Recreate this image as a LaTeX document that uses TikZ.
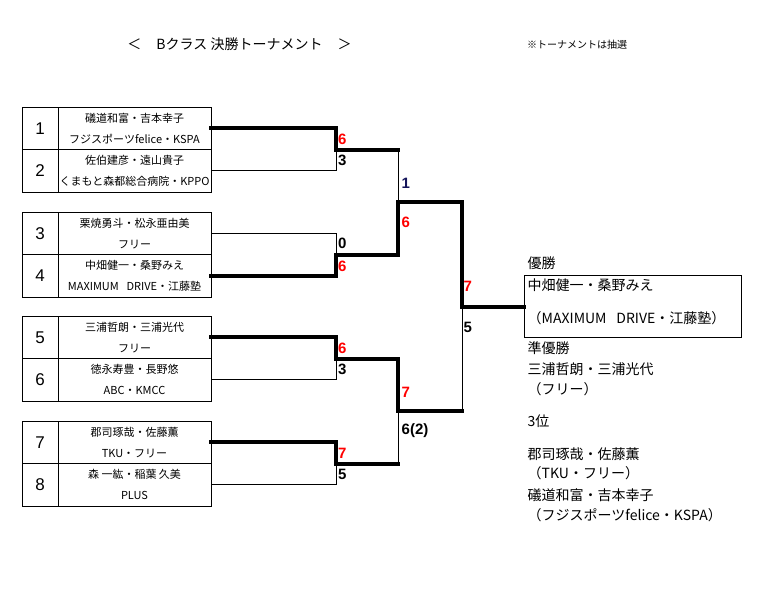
\documentclass[tikz,border=0pt]{standalone}
\usepackage{fontspec}
\setmainfont{Liberation Sans}
\newfontfamily\jp{Noto Sans CJK JP}
\definecolor{navy}{RGB}{20,20,90}
\begin{document}
\begin{tikzpicture}[x=1pt,y=-1pt,
  numcell/.style={draw, line width=0.8pt, minimum width=36pt, minimum height=42.5pt, inner sep=0pt, font=\fontsize{17}{17}\selectfont},
  namecell/.style={draw, line width=0.8pt, minimum width=153pt, minimum height=42.5pt, inner sep=0pt, align=center, font=\jp\fontsize{11}{21}\selectfont},
  win/.style={line width=4pt, line cap=rect},
  lose/.style={line width=0.9pt},
  sc/.style={anchor=west, inner sep=0pt, font=\bfseries\fontsize{15}{15}\selectfont},
  scw/.style={sc, text=red},
  rt/.style={anchor=west, inner sep=0pt, font=\jp\fontsize{14}{14}\selectfont}
]
\useasboundingbox (0,0) rectangle (782,592);
% title and note
\node[font=\jp\fontsize{14}{14}\selectfont, inner sep=0pt] (title) at (239.5,44) {＜\hspace{15pt}Bクラス 決勝トーナメント\hspace{15pt}＞};
\node[font=\jp\fontsize{10}{10}\selectfont, anchor=west, inner sep=0pt] (note) at (527,45) {※トーナメントは抽選};
% entries
\node[numcell] (n1) at (40,128.25) {1};
\node[namecell] (e1) at (134.5,128.25) {礒道和富・吉本幸子\\フジスポーツfelice・KSPA};
\node[numcell] (n2) at (40,170.75) {2};
\node[namecell] (e2) at (134.5,170.75) {佐伯建彦・遠山貴子\\くまもと森都総合病院・KPPO};
\node[numcell] (n3) at (40,233.25) {3};
\node[namecell] (e3) at (134.5,233.25) {栗焼勇斗・松永亜由美\\フリー};
\node[numcell] (n4) at (40,275.75) {4};
\node[namecell] (e4) at (134.5,275.75) {中畑健一・桑野みえ\\MAXIMUM\hspace{0.7em}DRIVE・江藤塾};
\node[numcell] (n5) at (40,337.25) {5};
\node[namecell] (e5) at (134.5,337.25) {三浦哲朗・三浦光代\\フリー};
\node[numcell] (n6) at (40,379.75) {6};
\node[namecell] (e6) at (134.5,379.75) {徳永寿豊・長野悠\\ABC・KMCC};
\node[numcell] (n7) at (40,442.25) {7};
\node[namecell] (e7) at (134.5,442.25) {郡司琢哉・佐藤薫\\TKU・フリー};
\node[numcell] (n8) at (40,484.75) {8};
\node[namecell] (e8) at (134.5,484.75) {森 一紘・稲葉 久美\\PLUS};
% champion box
\node[draw, line width=0.8pt, minimum width=217pt, minimum height=62pt, inner sep=0pt] (champ) at (632.5,306.5) {};
% junctions
\coordinate (j1) at (336,149.5); \coordinate (k1) at (398,149.5);
\coordinate (j2) at (336,254.5); \coordinate (k2) at (398,254.5);
\coordinate (j3) at (336,358.5); \coordinate (k3) at (398,358.5);
\coordinate (j4) at (336,463.5); \coordinate (k4) at (398,463.5);
\coordinate (s1) at (398,202); \coordinate (t1) at (462,202);
\coordinate (s2) at (398,411); \coordinate (t2) at (462,411);
\coordinate (f) at (462,306.5);
% losing lines
\draw[lose] (e2.east) -| (j1);
\draw[lose] (e3.east) -| (j2);
\draw[lose] (e6.east) -| (j3);
\draw[lose] (e8.east) -| (j4);
\draw[lose] (k1) -- (s1);
\draw[lose] (k4) -- (s2);
\draw[lose] (t2) -- (f);
% winning lines
\draw[win] (e1.east) -| (j1) -- (k1);
\draw[win] (e4.east) -| (j2) -- (k2) -- (s1) -- (t1) -- (f) -- (champ.west);
\draw[win] (e5.east) -| (j3) -- (k3) -- (s2) -- (t2);
\draw[win] (e7.east) -| (j4) -- (k4);
% scores
\node[scw] (a1) at (338,139) {6};
\node[sc] (a2) at (338,160) {3};
\node[sc] (a3) at (338,243) {0};
\node[scw] (a4) at (338,266) {6};
\node[scw] (a5) at (338,348) {6};
\node[sc] (a6) at (338,369) {3};
\node[scw] (a7) at (338,453) {7};
\node[sc] (a8) at (338,474) {5};
\node[sc, text=navy] (b1) at (401.5,183) {1};
\node[scw] (b2) at (401.5,222) {6};
\node[scw] (b3) at (401.5,392) {7};
\node[sc] (b4) at (401.5,431) {6(2)};
\node[scw] (c1) at (463.5,286) {7};
\node[sc] (c2) at (463.5,327) {5};
% results
\node[rt] (r1) at (527.5,263) {優勝};
\node[rt] (r2) at (527.5,285) {中畑健一・桑野みえ};
\node[rt] (r3) at (527.5,318) {（MAXIMUM\hspace{0.7em}DRIVE・江藤塾）};
\node[rt] (r4) at (527.5,348) {準優勝};
\node[rt] (r5) at (527.5,369) {三浦哲朗・三浦光代};
\node[rt] (r6) at (527.5,389) {（フリー）};
\node[rt] (r7) at (527.5,421.5) {3位};
\node[rt] (r8) at (527.5,454) {郡司琢哉・佐藤薫};
\node[rt] (r9) at (527.5,473) {（TKU・フリー）};
\node[rt] (r10) at (527.5,495) {礒道和富・吉本幸子};
\node[rt] (r11) at (527.5,515) {（フジスポーツfelice・KSPA）};
\end{tikzpicture}
\end{document}
